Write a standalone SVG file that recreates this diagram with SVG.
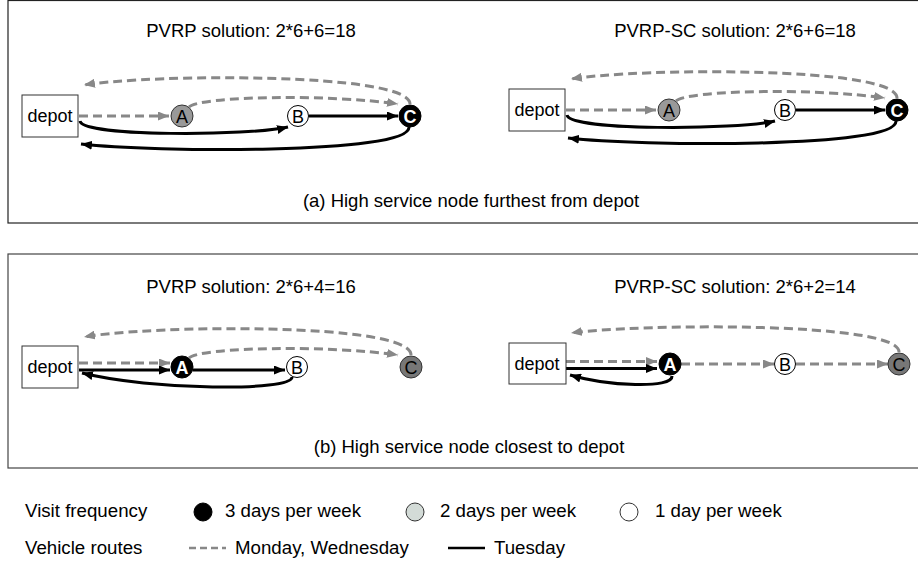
<svg xmlns="http://www.w3.org/2000/svg" width="918" height="569" viewBox="0 0 918 569">
<style>
text{font-family:"Liberation Sans",Arial,sans-serif;fill:#000}
.t{font-size:18.5px;text-anchor:middle}
.dep{font-size:18px;text-anchor:middle}
.lg{font-size:18.7px}
.nl{font-size:18px;text-anchor:middle}
.nw{font-size:18px;text-anchor:middle;fill:#fff;font-weight:bold}
.box{fill:#fff;stroke:#333;stroke-width:1}
.panel{fill:none;stroke:#222;stroke-width:1.2}
.dash{fill:none;stroke:#888;stroke-width:3;stroke-dasharray:9 5;marker-end:url(#ag)}
.sol{fill:none;stroke:#000;stroke-width:3;marker-end:url(#ab)}
.nb{fill:#000;stroke:#000;stroke-width:1}
.nw1{fill:#fff;stroke:#000;stroke-width:1}
.ng{fill:#999;stroke:#333;stroke-width:1}
.nd{fill:#777;stroke:#333;stroke-width:1}
</style>
<defs>
<marker id="ag" viewBox="0 0 10 10" refX="10" refY="5" markerWidth="11" markerHeight="9" markerUnits="userSpaceOnUse" orient="auto" preserveAspectRatio="none"><path d="M0,0 L10,5 L0,10 z" fill="#888"/></marker>
<marker id="ab" viewBox="0 0 10 10" refX="10" refY="5" markerWidth="11" markerHeight="9" markerUnits="userSpaceOnUse" orient="auto" preserveAspectRatio="none"><path d="M0,0 L10,5 L0,10 z" fill="#000"/></marker>
</defs>

<rect class="panel" x="8" y="0.5" width="930" height="222.5"/>
<rect class="panel" x="8" y="254" width="930" height="214" style="stroke:#444"/>

<text class="t" x="251" y="37">PVRP solution: 2*6+6=18</text>
<text class="t" x="735" y="37">PVRP-SC solution: 2*6+6=18</text>
<text class="t" x="471" y="207">(a) High service node furthest from depot</text>
<text class="t" x="251" y="293">PVRP solution: 2*6+4=16</text>
<text class="t" x="735" y="293">PVRP-SC solution: 2*6+2=14</text>
<text class="t" x="469" y="453">(b) High service node closest to depot</text>

<!-- (a) left -->
<g id="connectors-a1">
<path class="dash" d="M410,104 C410,72 150,74 84,85"/>
<path class="dash" d="M189,107 C200,96 330,94 398,104"/>
<path class="dash" d="M79,116 L169,116"/>
<path class="sol" d="M80,121 C82,137 250,136 288,127"/>
<path class="sol" d="M309,116 L398,116"/>
<path class="sol" d="M409,127 C410,155 150,152 81,144"/>
</g>
<g id="a1-depot"><rect class="box" x="22" y="95" width="56" height="42"/><text class="dep" x="50" y="122">depot</text></g>
<g id="a1-A"><circle class="ng" cx="182" cy="116" r="11"/><text class="nl" x="182" y="122.5">A</text></g>
<g id="a1-B"><circle class="nw1" cx="298" cy="116" r="10.5"/><text class="nl" x="298" y="122.5">B</text></g>
<g id="a1-C"><circle class="nb" cx="410" cy="116" r="11"/><text class="nw" x="410" y="122.5">C</text></g>

<!-- (a) right -->
<g transform="translate(487,-6)">
<g id="connectors-a2">
<path class="dash" d="M410,104 C410,72 150,74 84,85"/>
<path class="dash" d="M189,107 C200,96 330,94 398,104"/>
<path class="dash" d="M79,116 L169,116"/>
<path class="sol" d="M80,121 C82,137 250,136 288,127"/>
<path class="sol" d="M309,116 L398,116"/>
<path class="sol" d="M409,127 C410,155 150,152 81,144"/>
</g>
<g id="a2-depot"><rect class="box" x="22" y="95" width="56" height="42"/><text class="dep" x="50" y="122">depot</text></g>
<g id="a2-A"><circle class="ng" cx="182" cy="116" r="11"/><text class="nl" x="182" y="122.5">A</text></g>
<g id="a2-B"><circle class="nw1" cx="298" cy="116" r="10.5"/><text class="nl" x="298" y="122.5">B</text></g>
<g id="a2-C"><circle class="nb" cx="410" cy="116" r="11"/><text class="nw" x="410" y="122.5">C</text></g>
</g>

<!-- (b) left -->
<g id="connectors-b1">
<path class="dash" d="M411,355 C411,322 150,325 84,337"/>
<path class="dash" d="M189,358 C200,347 330,345 398,355"/>
<path class="dash" d="M79,363 L170,363"/>
<path class="sol" d="M79,370 L170,370"/>
<path class="sol" d="M193,370 L285,370"/>
<path class="sol" d="M292,377 C292,392 150,390 82,373"/>
</g>
<g id="b1-depot"><rect class="box" x="22" y="346" width="56" height="42"/><text class="dep" x="50" y="373">depot</text></g>
<g id="b1-A"><circle class="nb" cx="182" cy="367" r="11"/><text class="nw" x="182" y="373.5">A</text></g>
<g id="b1-B"><circle class="nw1" cx="297" cy="367" r="10.5"/><text class="nl" x="297" y="373.5">B</text></g>
<g id="b1-C"><circle class="nd" cx="411" cy="367" r="11"/><text class="nl" x="411" y="373.5">C</text></g>

<!-- (b) right -->
<g transform="translate(487,-3)">
<g id="connectors-b2">
<path class="dash" d="M412,355 C412,324 150,327 84,336"/>
<path class="dash" d="M79,364.5 L170,364.5"/>
<path class="sol" d="M79,371.5 L170,371.5"/>
<path class="sol" d="M185,379 C186,392 120,389 83,378"/>
<path class="dash" d="M194,367 L287,367"/>
<path class="dash" d="M309,367 L401,367"/>
</g>
<g id="b2-depot"><rect class="box" x="22" y="346" width="57" height="41"/><text class="dep" x="50" y="373">depot</text></g>
<g id="b2-A"><circle class="nb" cx="183" cy="367" r="11"/><text class="nw" x="183" y="373.5">A</text></g>
<g id="b2-B"><circle class="nw1" cx="298" cy="367" r="10.5"/><text class="nl" x="298" y="373.5">B</text></g>
<g id="b2-C"><circle class="nd" cx="412" cy="367" r="11"/><text class="nl" x="412" y="373.5">C</text></g>
</g>

<!-- legend -->
<g id="legend">
<text class="lg" x="25" y="517">Visit frequency</text>
<circle cx="203" cy="512" r="9" fill="#000" stroke="#000"/>
<text class="lg" x="225" y="517">3 days per week</text>
<circle cx="415" cy="512" r="9" fill="#d3dbd7" stroke="#333"/>
<text class="lg" x="440" y="517">2 days per week</text>
<circle cx="629" cy="512" r="9" fill="#fff" stroke="#333"/>
<text class="lg" x="655" y="517">1 day per week</text>
<text class="lg" x="25" y="554">Vehicle routes</text>
<line x1="189" y1="548" x2="226" y2="548" stroke="#888" stroke-width="2.5" stroke-dasharray="7 4"/>
<text class="lg" x="235" y="554">Monday, Wednesday</text>
<line x1="448" y1="548" x2="485" y2="548" stroke="#000" stroke-width="2.5"/>
<text class="lg" x="494" y="554">Tuesday</text>
</g>
</svg>
